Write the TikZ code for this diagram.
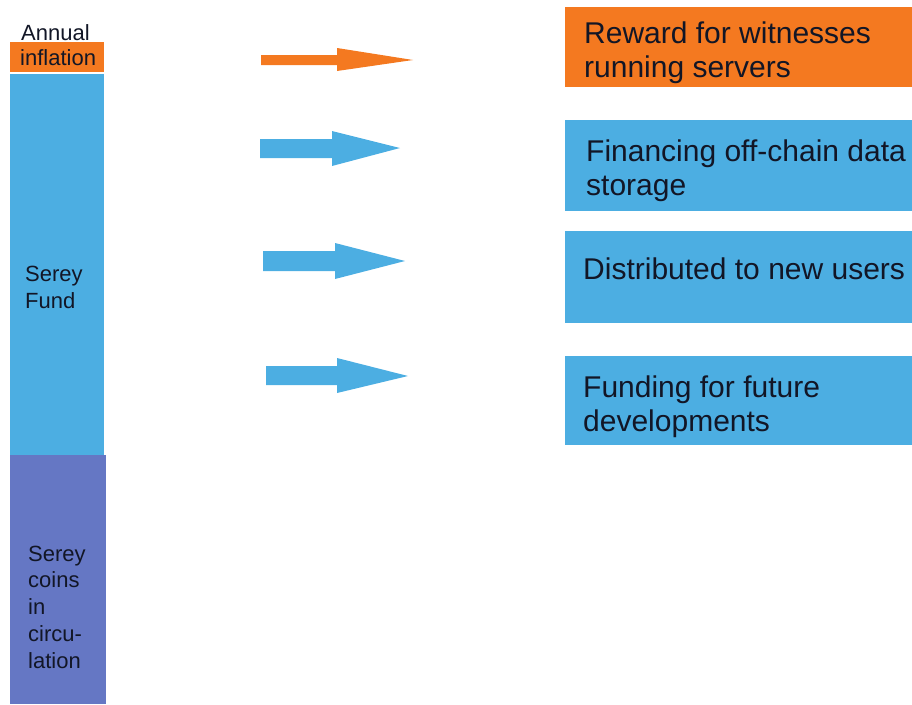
\documentclass[tikz,border=0pt]{standalone}
\usepackage{fontspec}
\setmainfont{Liberation Sans}
\definecolor{orng}{RGB}{244,121,32}
\definecolor{blu}{RGB}{76,174,226}
\definecolor{purp}{RGB}{101,119,196}
\definecolor{ink}{RGB}{18,22,38}
\begin{document}
\begin{tikzpicture}[x=1pt,y=-1pt,
  bigtxt/.style={text=ink,inner sep=0pt,anchor=base west,align=left,font=\fontsize{30}{34}\selectfont},
  smtxt/.style={text=ink,inner sep=0pt,anchor=base west,align=left,font=\fontsize{22}{26.7}\selectfont}]
\useasboundingbox (0,0) rectangle (912,704);
% left column
\fill[orng] (10,42) rectangle (104,72);
\fill[blu] (10,74) rectangle (104,455);
\fill[purp] (10,455) rectangle (106,704);
\node[smtxt] (annual) at (21,40) {Annual};
\node[smtxt] (infl) at (20,65) {inflation};
\node[smtxt] (fund) at (25,308) {Serey\\Fund};
\node[smtxt] (circ) at (28,668) {Serey\\coins\\in\\circu-\\lation};
% arrows
\fill[orng] (261,55) -- (337,55) -- (337,48) -- (413,60) -- (337,71) -- (337,65) -- (261,65) -- cycle;
\fill[blu] (260,139) -- (332,139) -- (332,131) -- (400,148) -- (332,166) -- (332,158) -- (260,158) -- cycle;
\fill[blu] (263,251) -- (335,251) -- (335,243) -- (405,261) -- (335,279) -- (335,271) -- (263,271) -- cycle;
\fill[blu] (266,366) -- (337,366) -- (337,358) -- (408,376) -- (337,393) -- (337,385) -- (266,385) -- cycle;
% right boxes
\fill[orng] (565,7) rectangle (912,87);
\fill[blu] (565,120) rectangle (912,211);
\fill[blu] (565,231) rectangle (912,323);
\fill[blu] (565,356) rectangle (912,445);
\node[bigtxt] (t1) at (584,77) {Reward for witnesses\\running servers};
\node[bigtxt] (t2) at (586,195) {Financing off-chain data\\storage};
\node[bigtxt] (t3) at (583,279) {Distributed to new users};
\node[bigtxt] (t4) at (583,431) {Funding for future\\developments};
\end{tikzpicture}
\end{document}
